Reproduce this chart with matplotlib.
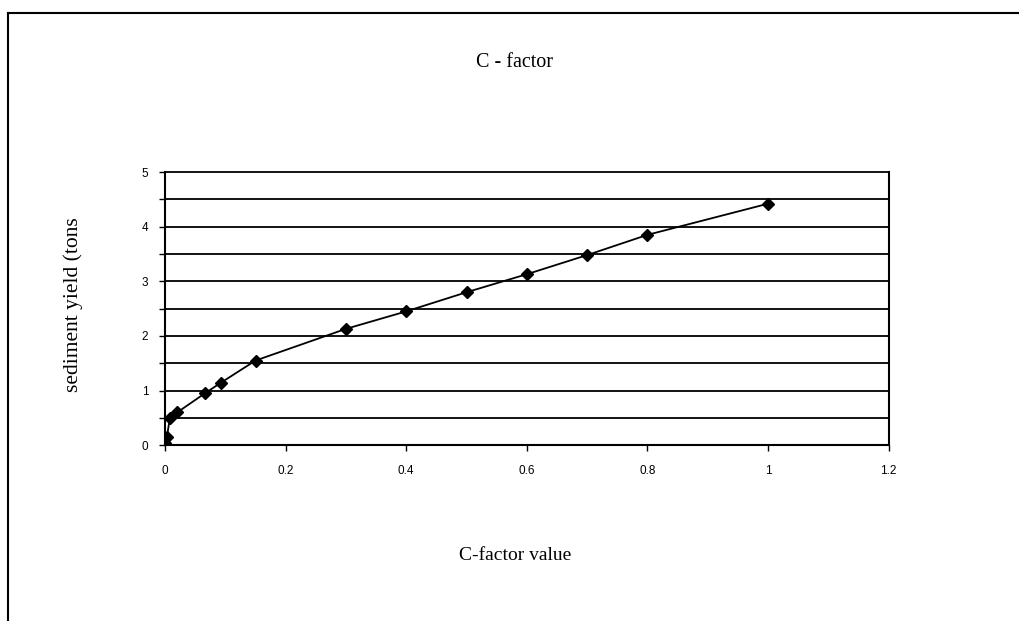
import matplotlib.pyplot as plt
import numpy as np
from matplotlib.lines import Line2D

# C-factor value vs sediment yield
c_factor = [0.0, 0.003, 0.008, 0.02, 0.066, 0.092, 0.15, 0.3, 0.4, 0.5, 0.6, 0.7, 0.8, 1.0]
sediment = [0.05, 0.15, 0.5, 0.6, 0.95, 1.14, 1.55, 2.13, 2.45, 2.8, 3.13, 3.48, 3.85, 4.42]

x_ticks = [0, 0.2, 0.4, 0.6, 0.8, 1, 1.2]
x_tick_labels = ["0", "0.2", "0.4", "0.6", "0.8", "1", "1.2"]
y_ticks = [0, 1, 2, 3, 4, 5]

fig = plt.figure(figsize=(10.19, 6.21), dpi=100)
ax = fig.add_axes([0.162, 0.283, 0.71, 0.44])

ax.plot(c_factor, sediment, color="black", lw=1.3, marker="D", ms=6.5, mfc="black", mec="black")

ax.set_xlim(0, 1.2)
ax.set_ylim(0, 5)
ax.set_xticks(x_ticks)
ax.set_xticklabels(x_tick_labels)
ax.set_yticks(y_ticks)
ax.set_yticks(np.arange(0.5, 5, 1), minor=True)
for yv in np.arange(0.5, 5.01, 0.5):
    ax.axhline(yv, color="black", lw=1.3, zorder=0, clip_on=False)

ax.spines["top"].set_visible(False)
for s in ["left", "bottom", "right"]:
    ax.spines[s].set_linewidth(1.5)

ax.tick_params(axis="both", which="both", direction="out", length=4, width=1, labelsize=8.5, colors="black")
ax.tick_params(axis="x", pad=10)
ax.tick_params(axis="y", pad=8)
for lab in ax.get_xticklabels() + ax.get_yticklabels():
    lab.set_fontfamily("Liberation Sans")

fig.text(0.505, 0.9, "C - factor", ha="center", va="center", fontsize=14.5, family="Liberation Serif")
fig.text(0.506, 0.105, "C-factor value", ha="center", va="center", fontsize=14, family="Liberation Serif")
fig.text(0.072, 0.51, "sediment yield (tons", ha="center", va="center", rotation=90, fontsize=15.5, family="Liberation Serif")

# outer chart frame (scanned, left and top edges visible)
fig.add_artist(Line2D([0.008, 1.0], [0.979, 0.979], transform=fig.transFigure, color="black", lw=1.5))
fig.add_artist(Line2D([0.008, 0.008], [0.0, 0.979], transform=fig.transFigure, color="black", lw=1.5))

fig.savefig("out.png", dpi=100)
